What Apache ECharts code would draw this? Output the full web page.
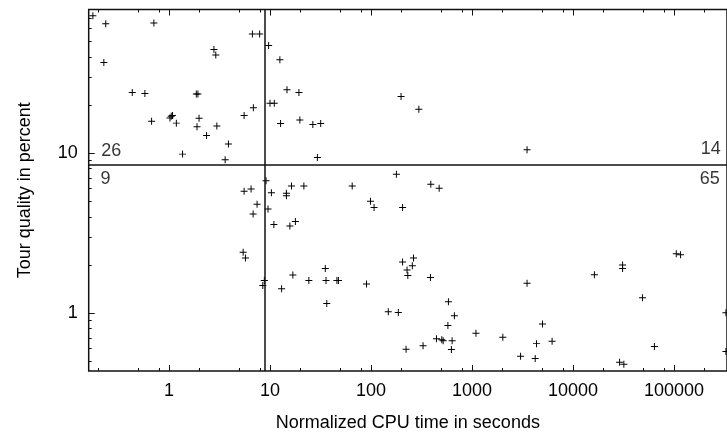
<!DOCTYPE html>
<html>
<head>
<meta charset="utf-8">
<script src="https://cdn.jsdelivr.net/npm/echarts@6/dist/echarts.min.js"></script>
<style>
  html, body { margin: 0; padding: 0; background: #fff; }
  #chart { width: 727px; height: 437px; }
</style>
</head>
<body>
<div id="chart"></div>
<script>
// ---- data: [normalized CPU time (s), tour quality (%)] ----
const upperLeft = [
  [0.176,72.3],[0.236,64.4],[0.707,65.1],[6.68,55.6],[7.88,55.6],[2.78,44.4],[2.90,41.1],
  [0.226,36.8],[0.432,23.9],[0.576,23.6],[1.86,23.4],[1.93,23.4],[6.83,19.2],[5.53,17.2],
  [1.08,17.2],[1.02,16.6],[1.05,17.0],[0.671,15.8],[1.18,15.4],[1.98,16.5],[1.89,14.6],
  [2.97,14.8],[2.35,12.9],[3.87,11.4],[1.36,9.86],[3.59,9.09]
];
const upperRight = [
  [9.67,47.0],[12.5,38.3],[14.7,24.9],[19.3,23.9],[9.98,20.5],[11.0,20.5],[12.7,15.3],
  [19.7,16.1],[26.5,15.1],[31.7,15.3],[29.4,9.40],[198,22.6],[297,18.8],[3500,10.5]
];
const lowerLeft = [
  [5.53,5.78],[6.48,5.97],[7.43,4.80],[6.79,4.17],[5.41,2.40],[5.70,2.21],[8.77,1.60],[8.47,1.49]
];
const lowerRight = [
  [9.12,6.72],[10.3,5.66],[14.5,5.61],[14.5,5.42],[16.3,6.23],[21.6,6.23],[65.0,6.23],
  [9.54,4.48],[10.9,3.58],[15.7,3.51],[17.8,3.74],[178,7.37],[390,6.39],[472,6.03],
  [98.6,5.01],[107,4.57],[205,4.57],[35.2,1.90],[16.8,1.73],[24.2,1.60],[35.8,1.60],
  [45.9,1.60],[47.5,1.60],[13.0,1.42],[90.1,1.52],[36.4,1.15],[583,1.18],[205,2.09],
  [263,2.21],[256,1.98],[227,1.86],[231,1.72],[387,1.67],[148,1.02],[186,1.01],
  [668,0.963],[576,0.838],[1092,0.748],[2015,0.706],[444,0.693],[501,0.683],[517,0.673],
  [634,0.673],[222,0.594],[327,0.625],[624,0.592],[3020,0.538],[4215,0.520],[4340,0.645],
  [4975,0.855],[6195,0.667],[3500,1.54],[16250,1.74],[30900,2.00],[30900,1.90],
  [105100,2.35],[115900,2.32],[48600,1.25],[63800,0.618],[28850,0.494],[31800,0.480],
  [326000,1.006],[326000,0.575]
];
const cpuThreshold = 8.9;
const qualityThreshold = 8.5;
const quadrantLabels = [
  { name: '26', value: [0.211, 10.3] },
  { name: '9',  value: [0.2075, 6.89] },
  { name: '14', value: [181000, 10.6] },
  { name: '65', value: [177000, 6.89] }
];
const xMajorTicks = [1, 10, 100, 1000, 10000, 100000];
const xMinorTicks = [0.2,0.5,0.8,2,5,8,20,50,80,200,500,800,2000,5000,8000,20000,50000,80000,200000];
const yMajorTicks = [1, 10];
const yMinorTicks = [0.5,0.6,0.7,0.8,0.9,2,3,4,5,6,7,8,9,20,30,40,50,60,70];
const xLabel = 'Normalized CPU time in seconds';
const yLabel = 'Tour quality in percent';

// ---- chart ----
const FONT = 'Liberation Sans, Arial, Helvetica, sans-serif';
const INK = '#111';
const X_MIN = 0.16, X_MAX = 334000, Y_MIN = 0.435, Y_MAX = 79;
const PLUS = 'path://M4.3,0H5.7V4.3H10V5.7H5.7V10H4.3V5.7H0V4.3H4.3Z';

function xAxisDef(pos, ticks, len, labels) {
  return {
    type: 'log', position: pos, min: X_MIN, max: X_MAX,
    axisLine: { show: false },
    splitLine: { show: false },
    minorTick: { show: false },
    axisTick: { show: true, inside: true, length: len, customValues: ticks,
                lineStyle: { color: INK, width: 1 } },
    axisLabel: labels ? {
      show: true, customValues: ticks, margin: 11,
      fontFamily: FONT, fontSize: 18, color: '#000',
      formatter: v => String(Math.round(v))
    } : { show: false }
  };
}
function yAxisDef(ticks, len, labels) {
  return {
    type: 'log', position: 'left', min: Y_MIN, max: Y_MAX,
    axisLine: { show: false },
    splitLine: { show: false },
    minorTick: { show: false },
    axisTick: { show: true, inside: true, length: len, customValues: ticks,
                lineStyle: { color: INK, width: 1 } },
    axisLabel: labels ? {
      show: true, customValues: ticks, margin: 11,
      fontFamily: FONT, fontSize: 18, color: '#000',
      formatter: v => String(Math.round(v))
    } : { show: false }
  };
}

const xAxes = [
  xAxisDef('bottom', xMajorTicks, 6, true),
  xAxisDef('top', xMajorTicks, 6, false),
  xAxisDef('bottom', xMinorTicks, 3, false),
  xAxisDef('top', xMinorTicks, 3, false)
];
Object.assign(xAxes[0], {
  name: xLabel, nameLocation: 'middle', nameGap: 43,
  nameTextStyle: { fontFamily: FONT, fontSize: 18, color: '#000' }
});
const yAxes = [
  yAxisDef(yMajorTicks, 6, true),
  yAxisDef(yMinorTicks, 3, false)
];
Object.assign(yAxes[0], {
  name: yLabel, nameLocation: 'middle', nameGap: 55, nameRotate: 90,
  nameTextStyle: { fontFamily: FONT, fontSize: 18, color: '#000' }
});

const allPoints = upperLeft.concat(upperRight, lowerLeft, lowerRight);

const chart = echarts.init(document.getElementById('chart'), null, { renderer: 'canvas' });
chart.setOption({
  animation: false,
  backgroundColor: '#fff',
  grid: { left: 88.7, top: 9.5, right: -3, bottom: 64.3, show: true,
          borderColor: INK, borderWidth: 1.5, backgroundColor: 'transparent' },
  xAxis: xAxes,
  yAxis: yAxes,
  series: [
    {
      type: 'scatter', xAxisIndex: 0, yAxisIndex: 0,
      symbol: PLUS, symbolSize: 7,
      itemStyle: { color: '#000', opacity: 1 },
      data: allPoints,
      silent: true,
      markLine: {
        silent: true, symbol: 'none', animation: false,
        label: { show: false },
        lineStyle: { color: INK, width: 1.5, type: 'solid' },
        data: [{ xAxis: cpuThreshold }, { yAxis: qualityThreshold }]
      }
    },
    {
      type: 'scatter', xAxisIndex: 0, yAxisIndex: 0,
      symbolSize: 1, itemStyle: { color: 'rgba(0,0,0,0)' },
      silent: true,
      label: { show: true, position: 'right', distance: 0, formatter: '{b}',
               fontFamily: FONT, fontSize: 18, color: '#000' },
      data: quadrantLabels
    }
  ]
});
</script>
</body>
</html>
